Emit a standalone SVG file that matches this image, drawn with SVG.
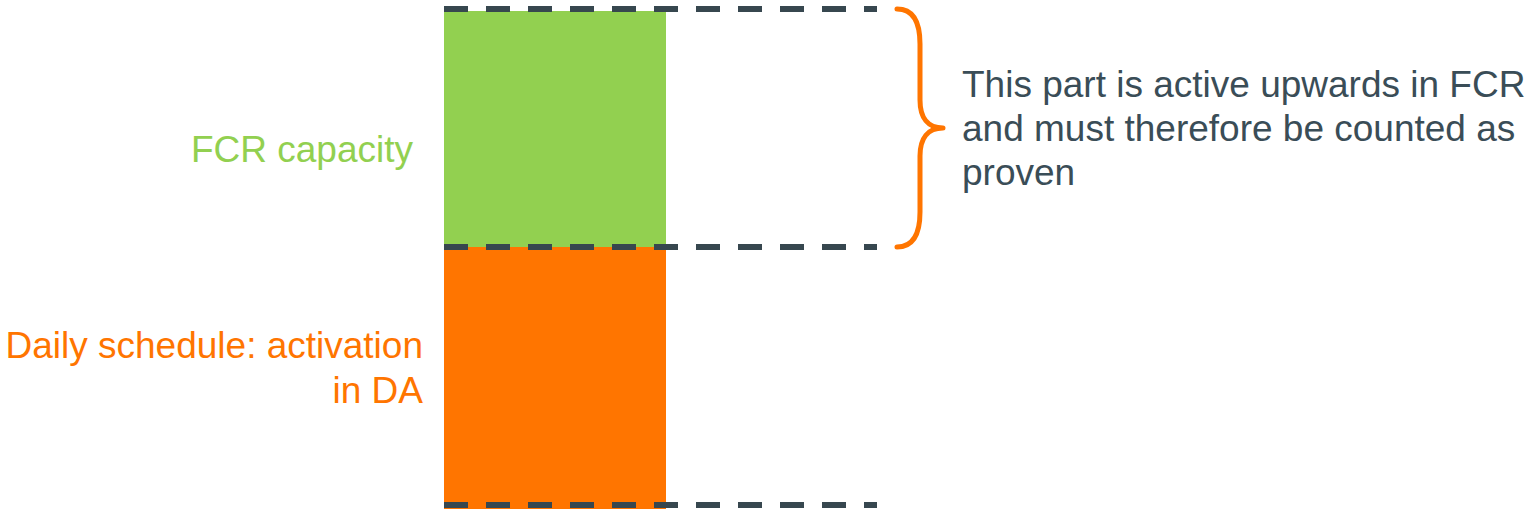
<svg xmlns="http://www.w3.org/2000/svg" width="1529" height="510" viewBox="0 0 1529 510">
<style>
text{font-family:"Liberation Sans",Arial,sans-serif;font-size:37px}
.dash{stroke:#37474F;stroke-width:6;stroke-dasharray:24 18;fill:none}
.g{fill:#92D050}
.o{fill:#FF7500}
.t{fill:#3A4D57}
</style>
<rect width="1529" height="510" fill="#ffffff"/>
<g id="fcr-block"><rect x="444" y="11" width="222" height="236" fill="#92D050"/></g>
<g id="da-block"><rect x="444" y="247" width="222" height="262" fill="#FF7500"/></g>
<g id="connectors">
<line class="dash" x1="444" y1="9" x2="877" y2="9"/>
<line class="dash" x1="444" y1="247" x2="877" y2="247"/>
<line class="dash" x1="444" y1="505" x2="877" y2="505"/>
</g>
<g id="brace"><path d="M897,9 C914,9 920,24 920,44 L920,100 C920,118 928,128 943,128 C928,128 920,138 920,156 L920,212 C920,232 914,247 897,247" fill="none" stroke="#FF7500" stroke-width="5" stroke-linecap="round" stroke-linejoin="round"/></g>
<g id="label-fcr"><text class="g" x="413" y="162" text-anchor="end">FCR capacity</text></g>
<g id="label-da"><text class="o" x="423" y="358" text-anchor="end">Daily schedule: activation</text><text class="o" x="423" y="403" text-anchor="end">in DA</text></g>
<g id="note"><text class="t" x="962" y="97">This part is active upwards in FCR</text><text class="t" x="962" y="141">and must therefore be counted as</text><text class="t" x="962" y="185">proven</text></g>
</svg>
